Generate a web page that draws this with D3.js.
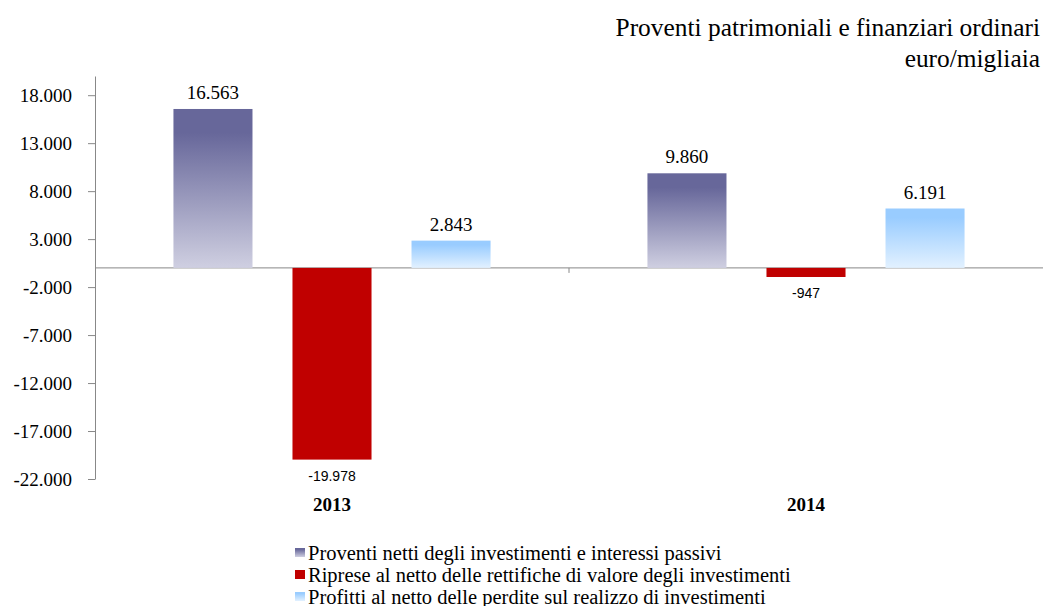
<!DOCTYPE html>
<html>
<head>
<meta charset="utf-8">
<script src="https://cdn.jsdelivr.net/npm/d3@7"></script>
<style>
  body { margin: 0; background: #fff; }
  svg { display: block; }
</style>
</head>
<body>
<div id="chart"></div>
<script>
// chart data
const years = ["2013", "2014"];
const seriesNames = [
    "Proventi netti degli investimenti e interessi passivi",
    "Riprese al netto delle rettifiche di valore degli investimenti",
    "Profitti al netto delle perdite sul realizzo di investimenti"
];
const proventiNetti = [16563, 9860];
const ripreseNette = [-19978, -947];
const profittiNetti = [2843, 6191];
const yTicks = [18000, 13000, 8000, 3000, -2000, -7000, -12000, -17000, -22000];

const titleLines = ["Proventi patrimoniali e finanziari ordinari", "euro/migliaia"];

const W = 1045, H = 606;
const serif = "'Liberation Serif', 'Times New Roman', serif";
const sans = "'Liberation Sans', Arial, sans-serif";

const it = d3.formatLocale({ decimal: ",", thousands: ".", grouping: [3], currency: ["€", ""], minus: "-" });
const fmt = it.format(",d");

const svg = d3.select("#chart").append("svg")
    .attr("width", W)
    .attr("height", H);

// gradients for the two shaded series
const defs = svg.append("defs");
function addGradient(id, top, bottom) {
    const g = defs.append("linearGradient")
        .attr("id", id)
        .attr("x1", 0).attr("y1", 0).attr("x2", 0).attr("y2", 1);
    g.append("stop").attr("offset", "0%").attr("stop-color", top);
    g.append("stop").attr("offset", "15%").attr("stop-color", top);
    g.append("stop").attr("offset", "100%").attr("stop-color", bottom);
}
addGradient("gradBlue", "#67679a", "#cfcfe1");
addGradient("gradSky", "#99ccff", "#e2f1ff");

const fills = ["url(#gradBlue)", "#c00000", "url(#gradSky)"];

const margin = { left: 95, right: 2 };

const y = d3.scaleLinear()
    .domain([-22000, 20000])
    .range([479, 76]);

const x0 = d3.scaleBand()
    .domain(years)
    .range([margin.left, W - margin.right])
    .paddingInner(0.331)
    .paddingOuter(0.1655);

const x1 = d3.scaleBand()
    .domain([0, 1, 2])
    .range([0, x0.bandwidth()])
    .paddingInner(0.336)
    .paddingOuter(0);

// y axis
const yAxis = svg.append("g")
    .attr("transform", "translate(" + margin.left + ",0)")
    .call(d3.axisLeft(y).tickValues(yTicks).tickFormat(fmt).tickSize(7).tickSizeOuter(0));
yAxis.select(".domain").attr("stroke", "#888");
yAxis.selectAll(".tick line").attr("stroke", "#888");
yAxis.selectAll(".tick text")
    .attr("x", -23)
    .style("font-family", serif)
    .style("font-size", "19px")
    .attr("fill", "#000");

// zero line
svg.append("line")
    .attr("x1", margin.left).attr("x2", W - margin.right)
    .attr("y1", y(0)).attr("y2", y(0))
    .attr("stroke", "#888");

// divider tick between categories
const xStep = x0.step();
svg.append("line")
    .attr("x1", margin.left + xStep).attr("x2", margin.left + xStep)
    .attr("y1", y(0)).attr("y2", y(0) + 5)
    .attr("stroke", "#888");

// bars
const rows = years.map(function(yr, i) {
    return { year: yr, values: [proventiNetti[i], ripreseNette[i], profittiNetti[i]] };
});

const groups = svg.selectAll(".grp")
    .data(rows)
    .enter()
    .append("g")
    .attr("transform", function(d) { return "translate(" + x0(d.year) + ",0)"; });

groups.selectAll("rect")
    .data(function(d) { return d.values.map(function(v, k) { return { k: k, v: v }; }); })
    .enter()
    .append("rect")
    .attr("x", function(d) { return x1(d.k); })
    .attr("width", x1.bandwidth())
    .attr("y", function(d) { return d.v >= 0 ? y(d.v) : y(0); })
    .attr("height", function(d) { return Math.abs(y(d.v) - y(0)); })
    .attr("fill", function(d) { return fills[d.k]; });

// value labels
groups.selectAll(".val")
    .data(function(d) { return d.values.map(function(v, k) { return { k: k, v: v }; }); })
    .enter()
    .append("text")
    .attr("x", function(d) { return x1(d.k) + x1.bandwidth() / 2; })
    .attr("y", function(d) { return d.v >= 0 ? y(d.v) - 10 : y(d.v) + 21; })
    .attr("text-anchor", "middle")
    .style("font-family", function(d) { return d.v >= 0 ? serif : sans; })
    .style("font-size", function(d) { return d.v >= 0 ? "19px" : "14px"; })
    .text(function(d) { return fmt(d.v); });

// category labels
svg.selectAll(".cat")
    .data(years)
    .enter()
    .append("text")
    .attr("x", function(d) { return x0(d) + x0.bandwidth() / 2; })
    .attr("y", 511)
    .attr("text-anchor", "middle")
    .style("font-family", serif)
    .style("font-size", "19px")
    .style("font-weight", "bold")
    .text(function(d) { return d; });

// title
svg.selectAll(".title")
    .data(titleLines)
    .enter()
    .append("text")
    .attr("x", 1040)
    .attr("y", function(d, i) { return 36 + i * 31; })
    .attr("text-anchor", "end")
    .style("font-family", serif)
    .style("font-size", "25.4px")
    .text(function(d) { return d; });

// legend
const legend = svg.selectAll(".leg")
    .data(seriesNames)
    .enter()
    .append("g")
    .attr("transform", function(d, i) { return "translate(295," + (560 + i * 22) + ")"; });
legend.append("rect")
    .attr("x", 0).attr("y", -12)
    .attr("width", 10).attr("height", 9)
    .attr("fill", function(d, i) { return fills[i]; });
legend.append("text")
    .attr("x", 13)
    .attr("y", 0)
    .style("font-family", serif)
    .style("font-size", "20.5px")
    .text(function(d) { return d; });
</script>
</body>
</html>
